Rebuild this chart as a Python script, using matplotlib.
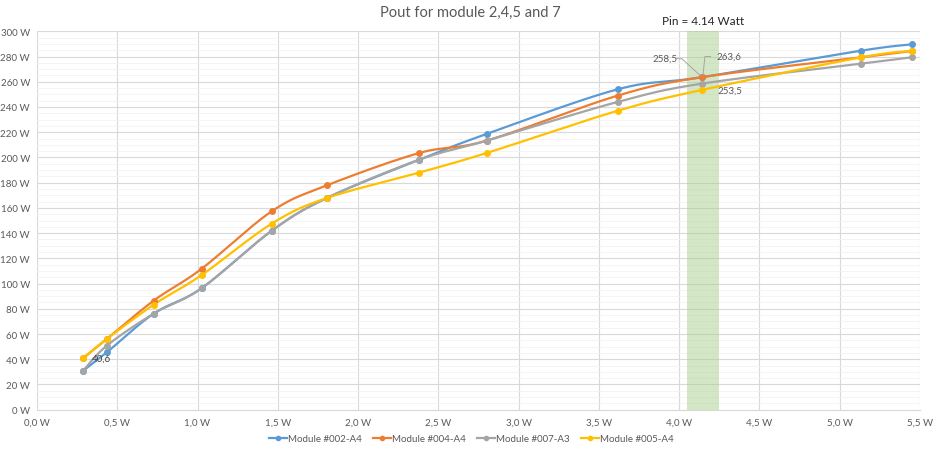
import numpy as np
import matplotlib.pyplot as plt
from matplotlib.ticker import MultipleLocator, FuncFormatter

plt.rcParams['font.family'] = ['Lato', 'DejaVu Sans']

# input power [W], same for every module
pin = [0.285, 0.435, 0.727, 1.025, 1.463, 1.804, 2.38, 2.80, 3.616, 4.14, 5.135, 5.45]

m002 = [30.6, 45.5, 76.2, 96.3, 142.0, 167.8, 198.2, 218.6, 254.0, 263.6, 284.7, 289.7]
m004 = [40.6, 56.1, 86.5, 111.7, 157.4, 177.8, 203.5, 213.3, 249.0, 263.6, 279.4, 284.4]
m007 = [30.6, 50.8, 76.2, 96.3, 142.0, 167.8, 198.2, 213.3, 244.0, 258.5, 274.4, 279.4]
m005 = [40.6, 56.1, 83.3, 106.7, 147.6, 167.8, 188.0, 203.5, 237.0, 253.5, 279.4, 284.4]

names = ["Module #002-A4", "Module #004-A4", "Module #007-A3", "Module #005-A4"]
colors = ["#5B9BD5", "#ED7D31", "#A5A5A5", "#FFC000"]

band = (4.05, 4.245)
txt = "#595959"


def smooth(x, y, n=30):
    # excel style smoothed line (bezier, tension 1/6)
    x = np.asarray(x, float)
    y = np.asarray(y, float)
    px = np.concatenate([[x[0]], x, [x[-1]]])
    py = np.concatenate([[y[0]], y, [y[-1]]])
    xs, ys = [], []
    t = np.linspace(0, 1, n)
    for i in range(1, len(px) - 2):
        p0 = np.array([px[i], py[i]])
        p3 = np.array([px[i + 1], py[i + 1]])
        p1 = p0 + (np.array([px[i + 1], py[i + 1]]) - np.array([px[i - 1], py[i - 1]])) / 6
        p2 = p3 - (np.array([px[i + 2], py[i + 2]]) - np.array([px[i], py[i]])) / 6
        b = ((1 - t) ** 3)[:, None] * p0 + (3 * (1 - t) ** 2 * t)[:, None] * p1 \
            + (3 * (1 - t) * t ** 2)[:, None] * p2 + (t ** 3)[:, None] * p3
        xs.extend(b[:, 0])
        ys.extend(b[:, 1])
    return xs, ys


fig = plt.figure(figsize=(9.37, 4.52), dpi=100)
ax = fig.add_axes([0.0395, 0.0914, 0.9424, 0.8371])

ax.axvspan(band[0], band[1], color="#A9D18E", alpha=0.5, lw=0, zorder=1)

handles = []
for y, c, name in zip([m002, m004, m007, m005], colors, names):
    sx, sy = smooth(pin, y)
    ax.plot(sx, sy, color=c, lw=1.6, zorder=3)
    ax.plot(pin, y, 'o', color=c, ms=4, zorder=4)
    h, = ax.plot([], [], color=c, lw=1.6, marker='o', ms=3, label=name)
    handles.append(h)

ax.set_xlim(0, 5.5)
ax.set_ylim(0, 300)
ax.xaxis.set_major_locator(MultipleLocator(0.5))
ax.yaxis.set_major_locator(MultipleLocator(20))
ax.yaxis.set_minor_locator(MultipleLocator(5))
ax.xaxis.set_major_formatter(FuncFormatter(lambda v, p: ("%.1f W" % v).replace(".", ",")))
ax.yaxis.set_major_formatter(FuncFormatter(lambda v, p: "%d W" % v))
ax.grid(True, which='major', color="#D9D9D9", lw=0.8, zorder=0)
ax.grid(True, which='minor', axis='y', color="#F2F2F2", lw=0.6, zorder=0)
ax.set_axisbelow(True)
for s in ['top', 'right', 'left']:
    ax.spines[s].set_visible(False)
ax.spines['bottom'].set_color("#D9D9D9")
ax.tick_params(which='both', length=0, labelsize=7, labelcolor=txt)
ax.tick_params(axis='x', pad=6)
ax.tick_params(axis='y', pad=5)

# data labels with leader lines
ax.text(0.34, 40.6, "40,6", fontsize=7, color="#404040", va='center', zorder=5)
ax.text(4.14 + 0.10, 253.5, "253,5", fontsize=7, color=txt, va='center', zorder=5)
ax.text(3.91, 278.3, "258,5", fontsize=7, color=txt, ha='center', va='center', zorder=5)
ax.text(4.31, 280.0, "263,6", fontsize=7, color=txt, ha='center', va='center', zorder=5)
ax.plot([3.98, 4.016, 4.135], [278.3, 278.3, 264.5], color="#A5A5A5", lw=0.7, zorder=5)
ax.plot([4.195, 4.16, 4.148], [280.0, 280.0, 265.0], color="#A5A5A5", lw=0.7, zorder=5)

ax.text(sum(band) / 2, 304, "Pin = 4.14 Watt", ha='center', va='bottom', fontsize=8.5,
        color="#262626")
fig.text(0.502, 0.972, "Pout for module 2,4,5 and 7", ha='center', va='center',
         fontsize=10.5, color=txt)

fig.legend(handles=handles, loc='center', bbox_to_anchor=(0.503, 0.027), ncol=4,
           frameon=False, fontsize=7, labelcolor=txt, handlelength=1.8,
           columnspacing=1.2, handletextpad=0.1)

fig.savefig("out.png", dpi=100)
